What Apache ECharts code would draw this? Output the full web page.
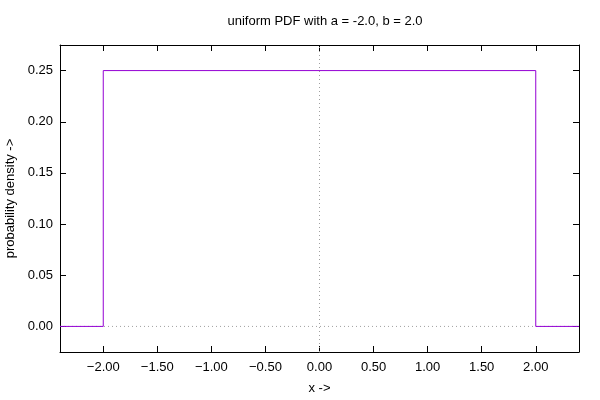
<!DOCTYPE html>
<html>
<head>
<meta charset="utf-8">
<script src="https://cdn.jsdelivr.net/npm/echarts@6/dist/echarts.min.js"></script>
<style>html,body{margin:0;padding:0;background:#fff}#c{width:600px;height:400px}</style>
</head>
<body>
<div id="c"></div>
<script>
const titleText = 'uniform PDF with a = -2.0, b = 2.0';
const xName = 'x ->';
const yName = 'probability density ->';
const xTicks = [-2, -1.5, -1, -0.5, 0, 0.5, 1, 1.5, 2];
const yTicks = [0, 0.05, 0.1, 0.15, 0.2, 0.25];
const xRange = [-2.4, 2.4];
const yRange = [-0.025, 0.275];
const pdfX = [-2.4, -2, -2, 2, 2, 2.4];
const pdfY = [0, 0, 0.25, 0.25, 0, 0];

const font = 'Liberation Sans, Arial, sans-serif';
const fs = 13;
const fmtX = v => (v < 0 ? '\u2212' : '') + Math.abs(v).toFixed(2);
const fmtY = v => v.toFixed(2);
const axisLine = { show: true, onZero: false, lineStyle: { color: '#000', width: 1 } };

const chart = echarts.init(document.getElementById('c'), null, { renderer: 'canvas' });
chart.setOption({
  animation: false,
  backgroundColor: '#fff',
  title: {
    text: titleText, left: 320, top: 10, textAlign: 'center',
    textStyle: { fontSize: fs, fontWeight: 'normal', color: '#000', fontFamily: font }
  },
  grid: { left: 60, right: 21, top: 45, bottom: 48, containLabel: false, outerBoundsMode: 'none' },
  xAxis: [{
    type: 'value', position: 'bottom', min: xRange[0], max: xRange[1],
    name: xName, nameLocation: 'middle', nameGap: 30,
    nameTextStyle: { fontSize: fs, color: '#000', fontFamily: font },
    axisLine: axisLine,
    axisTick: { show: true, inside: true, length: 6, customValues: xTicks, lineStyle: { color: '#000' } },
    axisLabel: { customValues: xTicks, formatter: fmtX, fontSize: fs, color: '#000', fontFamily: font, margin: 9 },
    splitLine: { show: false }
  }, {
    type: 'value', position: 'top', min: xRange[0], max: xRange[1],
    axisLine: axisLine,
    axisTick: { show: true, inside: true, length: 6, customValues: xTicks, lineStyle: { color: '#000' } },
    axisLabel: { show: false },
    splitLine: { show: false }
  }],
  yAxis: [{
    type: 'value', position: 'left', min: yRange[0], max: yRange[1],
    name: yName, nameLocation: 'middle', nameGap: 38, nameRotate: 90,
    nameTextStyle: { fontSize: fs, color: '#000', fontFamily: font },
    axisLine: axisLine,
    axisTick: { show: true, inside: true, length: 6, customValues: yTicks, lineStyle: { color: '#000' } },
    axisLabel: { customValues: yTicks, formatter: fmtY, fontSize: fs, color: '#000', fontFamily: font, margin: 7 },
    splitLine: { show: false }
  }, {
    type: 'value', position: 'right', min: yRange[0], max: yRange[1],
    axisLine: axisLine,
    axisTick: { show: true, inside: true, length: 6, customValues: yTicks, lineStyle: { color: '#000' } },
    axisLabel: { show: false },
    splitLine: { show: false }
  }],
  series: [{
    type: 'line', xAxisIndex: 0, yAxisIndex: 0, z: 1,
    data: [[0, yRange[0]], [0, yRange[1]]],
    showSymbol: false, silent: true,
    lineStyle: { color: '#a0a0a0', width: 1, type: [1, 3] }
  }, {
    type: 'line', xAxisIndex: 0, yAxisIndex: 0, z: 1,
    data: [[xRange[0], 0], [xRange[1], 0]],
    showSymbol: false, silent: true,
    lineStyle: { color: '#a0a0a0', width: 1, type: [1, 3] }
  }, {
    type: 'line', xAxisIndex: 0, yAxisIndex: 0, z: 3,
    data: pdfX.map((x, i) => [x, pdfY[i]]),
    showSymbol: false, silent: true,
    lineStyle: { color: '#9400d3', width: 1 }
  }]
});
</script>
</body>
</html>
